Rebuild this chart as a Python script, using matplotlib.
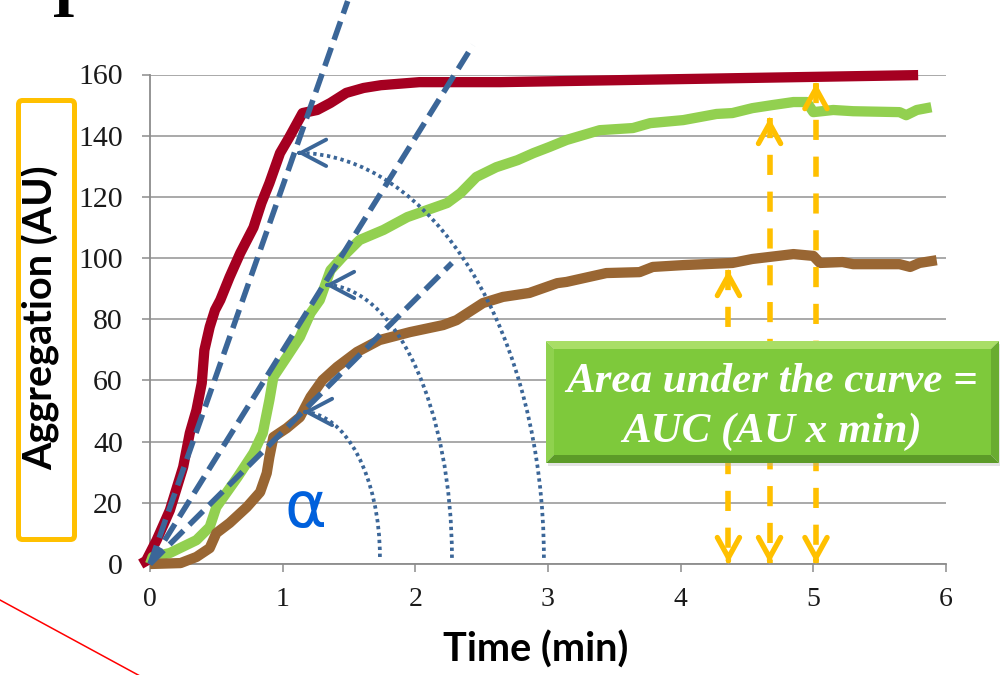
import matplotlib
matplotlib.use("Agg")
import matplotlib.pyplot as plt
from matplotlib.patches import Arc, Polygon, Rectangle, FancyBboxPatch

plt.rcParams['lines.scale_dashes'] = False

# ---- aggregation traces: time (min) and aggregation (AU) ----
red_time = [-0.07, -0.03, 0.05, 0.15, 0.25, 0.30, 0.35, 0.39, 0.41, 0.45, 0.49,
            0.53, 0.60, 0.68, 0.78, 0.84, 0.90, 0.98, 1.05, 1.15, 1.26, 1.36,
            1.48, 1.61, 1.74, 2.03, 2.64, 5.79]
red_agg = [0, 1, 7.8, 17.6, 31.7, 42.8, 50.3, 59.1, 69.9, 77.5, 83.0,
           86.3, 93.8, 101.6, 110.0, 118.0, 124.5, 134.3, 139.5, 147.4, 148.4, 150.7,
           154.0, 155.6, 156.5, 157.5, 157.5, 159.8]

green_time = [0.00, 0.02, 0.15, 0.35, 0.45, 0.50, 0.66, 0.78, 0.85, 0.90, 0.93,
              1.03, 1.13, 1.21, 1.28, 1.36, 1.45, 1.58, 1.76, 1.94, 2.09, 2.24,
              2.34, 2.46, 2.61, 2.77, 2.89, 3.01, 3.14, 3.39, 3.64, 3.77, 4.02,
              4.27, 4.39, 4.54, 4.69, 4.85, 4.95, 5.00, 5.15, 5.30, 5.65, 5.70,
              5.78, 5.89]
green_agg = [0, 2.3, 3.6, 7.8, 12.1, 18.6, 28.4, 36.3, 42.8, 53.6, 61.1,
             67.6, 74.2, 82.0, 86.3, 96.0, 100.3, 105.9, 109.2, 113.4, 115.7, 118.0,
             121.2, 126.5, 129.7, 132.0, 134.3, 136.3, 138.6, 141.8, 142.5, 144.1, 145.1,
             147.1, 147.4, 149.0, 150.0, 151.0, 151.0, 147.7, 148.4, 148.0, 147.7, 146.7,
             148.4, 149.3]

brown_time = [0.00, 0.23, 0.35, 0.45, 0.50, 0.60, 0.73, 0.83, 0.88, 0.90, 0.93,
              1.03, 1.13, 1.21, 1.30, 1.41, 1.56, 1.73, 1.96, 2.21, 2.31, 2.51,
              2.66, 2.86, 3.07, 3.14, 3.44, 3.69, 3.79, 4.02, 4.39, 4.54, 4.85,
              5.00, 5.05, 5.22, 5.30, 5.65, 5.73, 5.80, 5.93]
brown_agg = [0, 0.3, 2.3, 5.2, 10.1, 13.4, 18.6, 23.5, 29.7, 35.0, 41.5,
             44.4, 48.0, 54.6, 60.1, 64.4, 69.3, 73.2, 75.8, 78.1, 79.7, 85.3,
             87.3, 88.6, 91.8, 92.2, 95.1, 95.4, 97.1, 97.7, 98.4, 99.7, 101.3,
             100.7, 98.4, 98.7, 98.0, 98.0, 97.1, 98.4, 99.3]

x_ticks = [0, 1, 2, 3, 4, 5, 6]
y_ticks = [0, 20, 40, 60, 80, 100, 120, 140, 160]

# initial-slope tangents drawn from the origin: end point (min, AU)
tangent_ends = [(1.49, 184.0), (2.434, 169.6), (2.276, 98.4)]

# angle arcs: centre (min, AU), half-width (min), half-height (AU)
angle_arcs = [((1.153, 2.3), 0.580, 47.4),
              ((1.319, 2.0), 0.957, 89.2),
              ((1.108, 2.0), 1.861, 132.4)]

# AUC markers: time (min) and top of marker (AU)
auc_times = [4.36, 4.67, 5.02]
auc_tops = [96.1, 145.8, 157.2]

RED, GREEN, BROWN = '#A50021', '#92D050', '#996633'
BLUE = '#3B6698'
ORANGE = '#FFC000'
GRID = '#A3A3A3'

fig = plt.figure(figsize=(10, 6.75), dpi=100)
fig.patch.set_facecolor('white')
ax = fig.add_axes([0.150, 111 / 675, 0.796, 489.5 / 675])

ax.set_xlim(0, 6)
ax.set_ylim(0, 160)

for t, v, c in ((red_time, red_agg, RED), (green_time, green_agg, GREEN),
                (brown_time, brown_agg, BROWN)):
    ax.plot(t, v, color=c, lw=7.4, solid_joinstyle='round',
            solid_capstyle='butt', clip_on=False, zorder=3)

# tangent lines
for xe, ye in tangent_ends:
    ax.plot([0, xe], [0, ye], color=BLUE, lw=4.0, dashes=(14, 6),
            dash_capstyle='butt', clip_on=False, zorder=5)

# dotted angle arcs with open arrowheads at their upper end
for (cx, cy), rx, ry in angle_arcs:
    ax.add_patch(Arc((cx, cy), 2 * rx, 2 * ry, theta1=0, theta2=90,
                     color=BLUE, lw=2.7, linestyle=(0, (2.4, 2.6)),
                     capstyle='butt', zorder=6))
    ax.annotate('', xy=(cx, cy + ry), xytext=(2, 0), textcoords='offset points',
                arrowprops=dict(arrowstyle='->,head_length=18,head_width=9.5',
                                mutation_scale=1, color=BLUE, lw=2.8,
                                shrinkA=0, shrinkB=0), zorder=6)

ax.text(1.17, 12.0, 'α', color='#0060DC', fontsize=46, family='DejaVu Sans',
        ha='center', va='baseline', zorder=6)

# AUC double-headed markers
for xt, yt in zip(auc_times, auc_tops):
    ax.plot([xt, xt], [yt, 0.3], color=ORANGE, lw=4.0, dashes=(14.5, 12),
            dash_capstyle='butt', zorder=7)
    for tip, d in ((yt, -2), (0.3, 2)):
        ax.annotate('', xy=(xt, tip), xytext=(0, d), textcoords='offset points',
                    arrowprops=dict(arrowstyle='->,head_length=14.5,head_width=8',
                                    mutation_scale=1, color=ORANGE, lw=3.8,
                                    shrinkA=0, shrinkB=0), zorder=7)

# axes styling
ax.set_xticks(x_ticks)
ax.set_yticks(y_ticks)
ax.set_xticklabels([str(v) for v in x_ticks], family='Liberation Serif', fontsize=20)
ax.set_yticklabels([str(v) for v in y_ticks], family='Liberation Serif', fontsize=21.5)
ax.tick_params(axis='both', direction='out', length=5.5, width=1.1, color='#8C8C8C',
               labelcolor='#1A1A1A')
ax.tick_params(axis='y', pad=14)
ax.tick_params(axis='x', pad=11)
ax.yaxis.grid(True, color=GRID, lw=1.3)
ax.set_axisbelow(True)
for side in ('top', 'right'):
    ax.spines[side].set_visible(False)
for side in ('left', 'bottom'):
    ax.spines[side].set_color('#8C8C8C')
    ax.spines[side].set_linewidth(1.3)

ax.set_ylabel('Aggregation (AU)', family='Lato', fontweight='bold', fontsize=28.5)
ax.yaxis.label.set_va('baseline')
ax.yaxis.set_label_coords(-0.122, 0.503)
ax.set_xlabel('Time (min)', family='Lato', fontweight='bold', fontsize=28.5)
ax.xaxis.label.set_va('baseline')
ax.xaxis.set_label_coords(0.484, -0.200)

# ---- overlay in pixel units for the callout and frame decorations ----
deco = fig.add_axes([0, 0, 1, 1], zorder=4)
deco.set_xlim(0, 1000)
deco.set_ylim(675, 0)
deco.axis('off')
deco.patch.set_alpha(0)

# frame around the y-axis title
deco.add_patch(FancyBboxPatch((18.5, 100.5), 56, 439,
                              boxstyle='round,pad=0,rounding_size=4',
                              ec=ORANGE, fc='none', lw=3.6))

# bevelled green callout
x0, y0, x1, y1, b = 546, 341, 999, 463, 8
deco.add_patch(Rectangle((x0 + 2, y0 + 3), x1 - x0, y1 - y0, fc='#B0B0B0',
                         ec='none', alpha=0.35))
deco.add_patch(Polygon([(x0, y0), (x1, y0), (x1 - b, y0 + b), (x0 + b, y0 + b)],
                       closed=True, fc='#A9DE66', ec='none'))
deco.add_patch(Polygon([(x0, y0), (x0 + b, y0 + b), (x0 + b, y1 - b), (x0, y1)],
                       closed=True, fc='#8FD24E', ec='none'))
deco.add_patch(Polygon([(x1, y0), (x1, y1), (x1 - b, y1 - b), (x1 - b, y0 + b)],
                       closed=True, fc='#69AC30', ec='none'))
deco.add_patch(Polygon([(x0, y1), (x1, y1), (x1 - b, y1 - b), (x0 + b, y1 - b)],
                       closed=True, fc='#5C9B28', ec='none'))
deco.add_patch(Rectangle((x0 + b, y0 + b), x1 - x0 - 2 * b, y1 - y0 - 2 * b,
                         fc='#7EC93B', ec='none'))
deco.text(772, 392, 'Area under the curve =', color='white', family='Liberation Serif',
          style='italic', fontweight='bold', fontsize=31, ha='center', va='baseline')
deco.text(772, 442, 'AUC (AU x min)', color='white', family='Liberation Serif',
          style='italic', fontweight='bold', fontsize=31, ha='center', va='baseline')

# panel letter (its top runs off the figure edge) and stray pointer line
deco.text(64, 17, 'I', color='black', family='Liberation Serif', fontweight='bold',
          fontsize=44, ha='center', va='baseline')
deco.plot([0, 140], [600, 676], color='#FF0000', lw=1.1)

fig.savefig('out.png', dpi=100, facecolor='white')
